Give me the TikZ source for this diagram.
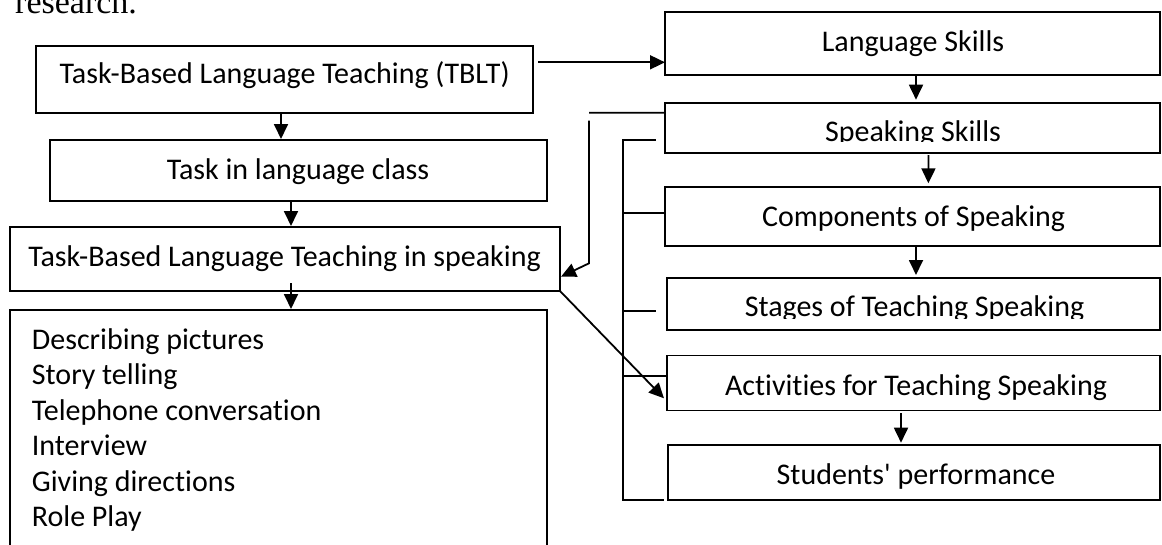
\documentclass[tikz,border=0pt]{standalone}
\usepackage{fontspec}
\setmainfont{Carlito}[Ligatures={TeX,NoCommon,NoContextual}]
\newfontfamily\serifres{Liberation Serif}
\usetikzlibrary{arrows.meta,calc}
\begin{document}
\begin{tikzpicture}[x=1pt,y=-1pt,
  box/.style={draw, line width=1.8pt, inner sep=0pt, outer sep=0pt},
  lbl/.style={font=\fontsize{30}{36}\selectfont, inner sep=0pt, anchor=base},
  itm/.style={font=\fontsize{30}{36}\selectfont, inner sep=0pt, anchor=base west},
  arr/.style={line width=1.8pt, -{Triangle[length=15pt,width=14pt]}},
  ln/.style={line width=1.8pt}]
\useasboundingbox (0,0) rectangle (1162,544);

% cut-off sentence tail at the top
\node[font=\serifres\fontsize{34}{40}\selectfont, inner sep=0pt, anchor=base west] (res) at (15,13) {research.};

% left column boxes
\node[box, minimum width=497pt, minimum height=67pt] (tblt) at (284.5,79.5) {};
\node[box, minimum width=497pt, minimum height=61pt] (task) at (298.5,170.5) {};
\node[box, minimum width=550pt, minimum height=64pt] (tblts) at (285,259) {};
\node[box, minimum width=537pt, minimum height=260pt] (list) at (278.5,440) {};

% right column boxes
\node[box, minimum width=495pt, minimum height=62.4pt] (ls) at (912.5,43.5) {};
\node[box, minimum width=495pt, minimum height=50.3pt] (ss) at (912.5,127.85) {};
\node[box, minimum width=495.3pt, minimum height=58.7pt] (comp) at (912.35,216.65) {};
\node[box, minimum width=493.3pt, minimum height=52pt] (stag) at (913.35,304) {};
\node[box, minimum width=492.7pt, minimum height=55pt] (act) at (913.65,383) {};
\node[box, minimum width=491.7pt, minimum height=55pt] (stud) at (914.15,472.5) {};

% texts
\node[lbl] (ttblt) at (284.7,83.5) {Task-Based Language Teaching (TBLT)};
\node[lbl] (ttask) at (298,179.3) {Task in language class};
\node[lbl] (ttblts) at (284.5,266.7) {Task-Based Language Teaching in speaking};
\node[itm] (l1) at (31.7,349) {Describing pictures};
\node[itm] (l2) at (31.7,384.5) {Story telling};
\node[itm] (l3) at (31.7,420) {Telephone conversation};
\node[itm] (l4) at (31.7,455.5) {Interview};
\node[itm] (l5) at (31.7,491) {Giving directions};
\node[itm] (l6) at (31.7,526.5) {Role Play};

\node[lbl] (tls) at (913,51.7) {Language Skills};
\begin{scope}
  \clip (665,102.7) rectangle (1160,141.7);
  \node[lbl] (tss) at (913,141.3) {Speaking Skills};
\end{scope}
\node[lbl] (tcomp) at (913.6,226) {Components of Speaking};
\begin{scope}
  \clip (666.7,278) rectangle (1160,318.7);
  \node[lbl] (tstag) at (914.5,316.7) {Stages of Teaching Speaking};
\end{scope}
\node[lbl] (tact) at (916,395) {Activities for Teaching Speaking};
\node[lbl] (tstud) at (916,484) {Students\textquotesingle{} performance};

% left column arrows
\draw[arr] ($(tblt.south)+(-3.5,0)$) -- ($(task.north)+(-17.5,-1)$);
\draw[arr] ($(task.south)+(-7.5,0)$) -- ($(tblts.north)+(6,-1)$);
\draw[arr] ($(tblts.south)+(6,-8)$) -- ($(list.north)+(12.5,-1)$);

% TBLT to Language Skills
\coordinate (a1) at ($(tblt.north east)+(5,16.3)$);
\draw[arr] (a1) -- (a1 -| ls.west);

% right column arrows
\draw[arr] ($(ls.south)+(3.5,0)$) -- ($(ss.north)+(3.5,-3)$);
\draw[arr] ($(ss.south)+(16,2)$) -- ($(comp.north)+(16,-4)$);
\draw[arr] ($(comp.south)+(3.65,0)$) -- ($(stag.north)+(2.65,-3)$);
\draw[arr] ($(act.south)+(-12.65,2.5)$) -- ($(stud.north)+(-13.15,-2.3)$);

% Speaking Skills back to TBLT in speaking
\draw[ln] ($(ss.north west)+(0,10)$) -- (589,112.7);
\draw[arr] (589,120.7) -- (589,263.3) -- ($(tblts.east)+(1,17.7)$);

% TBLT in speaking to Activities
\draw[arr] (tblts.south east) -- ($(act.west)+(-3.3,15.3)$);

% bracket spine
\draw[ln] ($(ss.west)+(-9.3,12.15)$) -- (622.7,140) -- (622.7,500) -- ($(stud.south west)+(-4,0)$);
\draw[ln] (622.7,212.7) -- ($(comp.west)+(0,-3.95)$);
\draw[ln] (622.7,310.7) -- ($(stag.west)+(-11,6.7)$);
\draw[ln] (622.7,375.7) -- ($(act.west)+(-1.6,-7.3)$);
\end{tikzpicture}
\end{document}
